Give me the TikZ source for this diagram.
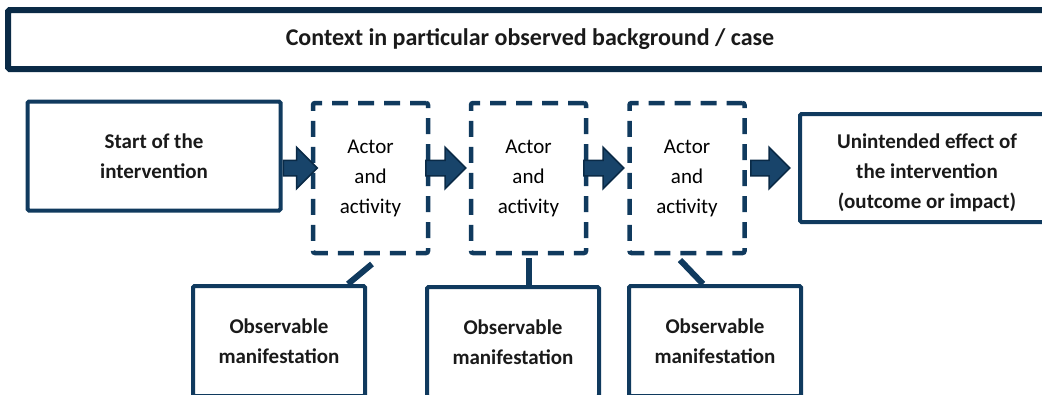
\documentclass[tikz,border=0pt]{standalone}
\usepackage{fontspec}
\setmainfont{Carlito}
\usetikzlibrary{positioning, shapes.arrows}
\definecolor{navy_line}{RGB}{16,58,94}
\definecolor{navy_dark}{RGB}{10,42,70}
\definecolor{arrow_fill}{RGB}{24,68,106}
\definecolor{text_black}{RGB}{26,26,26}

\tikzset{
	mainbox/.style={draw=navy_line, line width=4pt, rounded corners=1.5pt, fill=white, align=center, text=text_black, font=\fontsize{21}{30}\selectfont\bfseries},
	actbox/.style={draw=navy_line, line width=4.5pt, dash pattern=on 16pt off 10pt, rounded corners=2pt, minimum width=115pt, minimum height=150pt, align=center, font=\fontsize{21}{30}\selectfont},
	obsbox/.style={mainbox, minimum width=172pt, minimum height=110pt},
	blockarrow/.style={single arrow, draw=navy_dark, fill=arrow_fill, line width=1.5pt, inner xsep=0pt, inner ysep=7pt, single arrow head extend=13pt, anchor=tail},
	link/.style={draw=navy_line, line width=6pt}
}

\begin{document}
\begin{tikzpicture}[x=1pt, y=-1pt]
	\useasboundingbox (0,0) rectangle (1042,394);

	% --- Context banner ---
	\node [mainbox, draw=navy_dark, line width=6pt, minimum width=1044pt, minimum height=59pt, font=\fontsize{24}{30}\selectfont\bfseries] (context) at (530,39.5) {Context in particular observed background / case};

	% --- Chain of boxes ---
	\node [mainbox, minimum width=253pt, minimum height=109pt] (start) at (154,156) {Start of the\\intervention};
	\node [actbox] (act1) at (370.5,178) {Actor\\and\\activity};
	\node [actbox] (act2) at (528.5,178) {Actor\\and\\activity};
	\node [actbox] (act3) at (687,178) {Actor\\and\\activity};
	% the strut pushes the three lines a little lower in the box
	\node [mainbox, minimum width=254pt, minimum height=108pt] (effect) at (927,168) {\rule{0pt}{24pt}Unintended effect of\\the intervention\\(outcome or impact)};

	% Block arrows between the boxes
	\node [blockarrow, minimum height=34pt] (arr1) at (start.east |- effect.west) {};
	\node [blockarrow, minimum height=40pt] (arr2) at (425,168) {};
	\node [blockarrow, minimum height=40pt] (arr3) at (583,168) {};
	\node [blockarrow, minimum height=39pt] (arr4) at (750,168) {};

	% --- Observable manifestations ---
	\node [obsbox] (obs1) at (279,341) {Observable\\manifestation};
	\node [obsbox] (obs2) at (513,342) {Observable\\manifestation};
	\node [obsbox] (obs3) at (715,341) {Observable\\manifestation};

	% Ties from the manifestations up to the activities
	\coordinate (tie1) at (372,264);
	\coordinate (tie2) at (529,258);
	\coordinate (tie3) at (680,260);
	\draw [link] ([xshift=-19pt]obs1.north east) -- (tie1);
	\draw [link] (tie2) -- (tie2 |- obs2.north);
	\draw [link] (tie3) -- ([xshift=-12pt]obs3.north);
\end{tikzpicture}
\end{document}
